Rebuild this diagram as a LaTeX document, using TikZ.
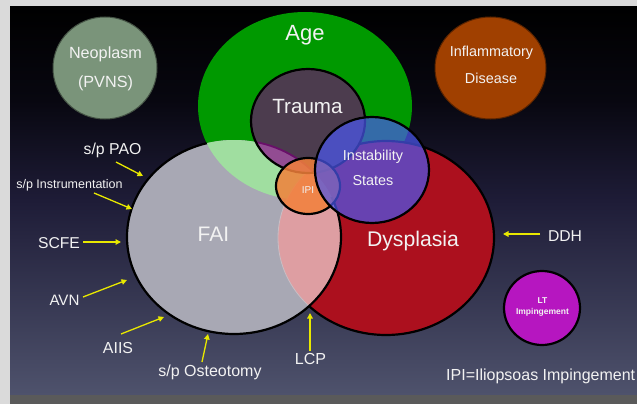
\documentclass[tikz,border=0pt]{standalone}
\usepackage{fontspec}
\setmainfont{Liberation Sans}
\usetikzlibrary{arrows.meta}
\definecolor{framegray}{RGB}{218,218,218}
\definecolor{bottomgray}{RGB}{90,90,90}
\definecolor{bgbottom}{RGB}{78,82,108}
\definecolor{bgmid}{RGB}{30,28,55}
\definecolor{bgdark}{RGB}{8,7,16}
\definecolor{agegreen}{RGB}{0,153,0}
\definecolor{faigray}{RGB}{168,168,180}
\definecolor{lightgreen}{RGB}{160,222,160}
\definecolor{faipink}{RGB}{222,158,162}
\definecolor{dysred}{RGB}{172,16,30}
\definecolor{traumacol}{RGB}{76,60,78}
\definecolor{traumafai}{RGB}{146,76,146}
\definecolor{tfline}{RGB}{105,15,105}
\definecolor{ipiorange}{RGB}{242,128,58}
\definecolor{instblue}{RGB}{75,88,240}
\definecolor{ltmag}{RGB}{182,22,192}
\definecolor{neocol}{RGB}{122,148,122}
\definecolor{inflcol}{RGB}{160,64,0}
\definecolor{arrowyellow}{RGB}{232,232,0}
\definecolor{txtwhite}{RGB}{242,242,242}
\definecolor{faintline}{RGB}{200,190,196}
\pgfdeclareverticalshading{bgshade}{100bp}{color(0bp)=(bgbottom); color(25bp)=(bgbottom); color(50bp)=(bgmid); color(63bp)=(bgdark); color(75bp)=(black); color(100bp)=(black)}
\newcommand{\fsz}[1]{\fontsize{#1}{#1}\selectfont}
\def\pAge{(305,106) ellipse [x radius=107, y radius=94]}
\def\pTrauma{(308,121) ellipse [x radius=57, y radius=52]}
\def\pFAI{(234,237) ellipse [x radius=107, y radius=97]}
\def\pDys{(386,238) ellipse [x radius=108, y radius=97]}
\def\pIPI{(308,186) ellipse [x radius=32, y radius=28]}
\def\pInst{(372,170) ellipse [x radius=57, y radius=53]}
\begin{document}
\begin{tikzpicture}[x=1pt,y=-1pt]
\tikzset{
  outl/.style={draw=black, line width=2.2pt},
  lbl/.style={text=txtwhite, inner sep=0pt, anchor=base},
  arr/.style={draw=arrowyellow, line width=1.3pt, -{Triangle[length=5.5pt,width=5.5pt]}},
}
\useasboundingbox (0,0) rectangle (637,404);
% frame and background
\fill[framegray] (0,0) rectangle (637,404);
\fill[bottomgray] (10,394) rectangle (637,404);
\shade[shading=bgshade] (10,7) rectangle (637,394);

% separate circles
\fill[neocol, draw=neocol!55!black, line width=1pt] (105,68) ellipse [x radius=52, y radius=51];
\fill[inflcol, draw=inflcol!55!black, line width=1pt] (490.5,68) ellipse [x radius=55.5, y radius=51];
\filldraw[fill=ltmag, outl] (542,308) ellipse [x radius=38, y radius=37];

% Venn fills
\fill[agegreen] \pAge;
\fill[dysred] \pDys;
\fill[faigray] \pFAI;
\begin{scope}
  \clip \pFAI;
  \fill[lightgreen] \pAge;
  \fill[faipink] \pDys;
  \draw[faintline, line width=0.8pt] \pDys;
\end{scope}
% outlines
\begin{scope}[even odd rule]
  \clip (0,0) rectangle (637,404) \pAge;
  \draw[outl] \pFAI;
\end{scope}
\begin{scope}[even odd rule]
  \clip (0,0) rectangle (637,404) \pFAI;
  \draw[outl] \pDys;
\end{scope}

% Trauma
\fill[traumacol] \pTrauma;
\begin{scope}
  \clip \pTrauma;
  \fill[traumafai] \pFAI;
  \draw[tfline, line width=1.8pt] \pFAI;
\end{scope}
\draw[outl] \pTrauma;

% IPI
\path[fill=ipiorange, fill opacity=0.85, outl] \pIPI;
% Instability
\path[fill=instblue, fill opacity=0.7, outl] \pInst;

% texts
\node[lbl, font=\fsz{22}] (age) at (305,41) {Age};
\node[lbl, font=\fsz{20.6}] (trauma) at (307.5,113) {Trauma};
\node[lbl, font=\fsz{14.4}] (inst1) at (373,160) {Instability};
\node[lbl, font=\fsz{14.4}] (inst2) at (373,185) {States};
\node[lbl, font=\fsz{10}] (ipi) at (308,193) {IPI};
\node[lbl, font=\fsz{21}] (fai) at (213.5,241) {FAI};
\node[lbl, font=\fsz{21.2}] (dys) at (413,246) {Dysplasia};
\node[lbl, font=\fsz{16.2}] (neo1) at (105.5,59) {Neoplasm};
\node[lbl, font=\fsz{16.2}] (neo2) at (105.5,88) {(PVNS)};
\node[lbl, font=\fsz{14.4}] (infl1) at (491.5,57) {Inflammatory};
\node[lbl, font=\fsz{14.4}] (infl2) at (491,83) {Disease};
\node[lbl, font=\fsz{8.5}\bfseries] (lt1) at (542.5,303) {LT};
\node[lbl, font=\fsz{8.5}\bfseries] (lt2) at (542.5,314) {Impingement};
\node[lbl, font=\fsz{15.8}] (pao) at (112.5,154) {s/p PAO};
\node[lbl, font=\fsz{12.5}] (instr) at (69.5,188) {s/p Instrumentation};
\node[lbl, font=\fsz{15.7}] (scfe) at (59,248) {SCFE};
\node[lbl, font=\fsz{15.1}] (avn) at (64.5,305) {AVN};
\node[lbl, font=\fsz{15.9}] (aiis) at (118,353) {AIIS};
\node[lbl, font=\fsz{16}] (ost) at (210,376) {s/p Osteotomy};
\node[lbl, font=\fsz{16}] (lcp) at (310.5,364) {LCP};
\node[lbl, font=\fsz{15.7}] (ddh) at (565,241) {DDH};
\node[lbl, anchor=base west, font=\fsz{16}] (key) at (446,380) {IPI=Iliopsoas Impingement};

% arrows
\coordinate (pao-a) at (116,162);   \coordinate (pao-b) at (143,176);
\coordinate (instr-a) at (94,193);  \coordinate (instr-b) at (132,209);
\coordinate (scfe-a) at (83,242);   \coordinate (scfe-b) at (121,242);
\coordinate (avn-a) at (83,297);    \coordinate (avn-b) at (127,280);
\coordinate (aiis-a) at (121,334);  \coordinate (aiis-b) at (164,317);
\coordinate (ost-a) at (202,362);   \coordinate (ost-b) at (208,334);
\coordinate (lcp-a) at (310,351);   \coordinate (lcp-b) at (310,313);
\coordinate (ddh-a) at (540,234);   \coordinate (ddh-b) at (503,234);
\draw[arr] (pao-a) -- (pao-b);
\draw[arr] (instr-a) -- (instr-b);
\draw[arr] (scfe-a) -- (scfe-b);
\draw[arr] (avn-a) -- (avn-b);
\draw[arr] (aiis-a) -- (aiis-b);
\draw[arr] (ost-a) -- (ost-b);
\draw[arr] (lcp-a) -- (lcp-b);
\draw[arr] (ddh-a) -- (ddh-b);
\end{tikzpicture}
\end{document}
